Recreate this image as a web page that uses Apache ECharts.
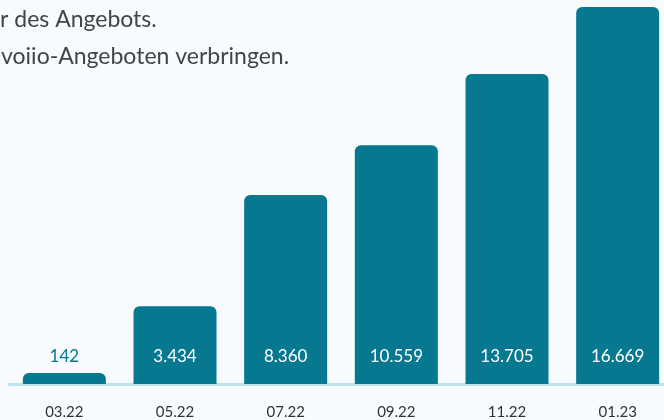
<!DOCTYPE html>
<html>
<head>
<meta charset="utf-8">
<script src="https://cdn.jsdelivr.net/npm/echarts@6/dist/echarts.min.js"></script>
<style>
  html, body { margin: 0; padding: 0; background: #f7fbfe; }
  #chart { width: 664px; height: 420px; }
</style>
</head>
<body>
<div id="chart"></div>
<script>
const months = ['03.22', '05.22', '07.22', '09.22', '11.22', '01.23'];
const users = [142, 3434, 8360, 10559, 13705, 16669];
const headLines = ['r des Angebots.', 'voiio-Angeboten verbringen.'];

const teal = '#06788f';
const fmt = v => String(v).replace(/\B(?=(\d{3})+(?!\d))/g, '.');

const chart = echarts.init(document.getElementById('chart'));
chart.setOption({
  backgroundColor: '#f7fbfe',
  animation: false,
  // the plot runs past the right edge of the picture
  grid: { left: 9, width: 664, top: 7, bottom: 36, outerBoundsMode: 'none' },
  graphic: [
    { type: 'text', left: 0, top: 8, style: { text: headLines[0], font: '23px Lato', fill: '#444' } },
    { type: 'text', left: 1, top: 45, style: { text: headLines[1], font: '23px Lato', fill: '#444' } }
  ],
  xAxis: {
    type: 'category',
    data: months,
    axisLine: { lineStyle: { color: '#bce4ee', width: 3 } },
    axisTick: { show: false },
    axisLabel: { color: '#333', fontSize: 15, fontFamily: 'Lato', margin: 21 }
  },
  yAxis: {
    type: 'value',
    min: 0,
    max: 'dataMax',
    show: false
  },
  series: [{
    type: 'bar',
    barWidth: 83,
    barMinHeight: 11,
    itemStyle: { color: teal, borderRadius: [6, 6, 0, 0] },
    label: {
      show: true,
      position: 'insideBottom',
      distance: 19,
      fontSize: 17,
      fontFamily: 'Lato',
      color: '#fff',
      formatter: p => fmt(p.value)
    },
    // first bar is too short for its label, so it sits on the background in teal
    data: users.map((v, i) => i === 0 ? { value: v, label: { color: teal } } : v)
  }]
});
</script>
</body>
</html>
